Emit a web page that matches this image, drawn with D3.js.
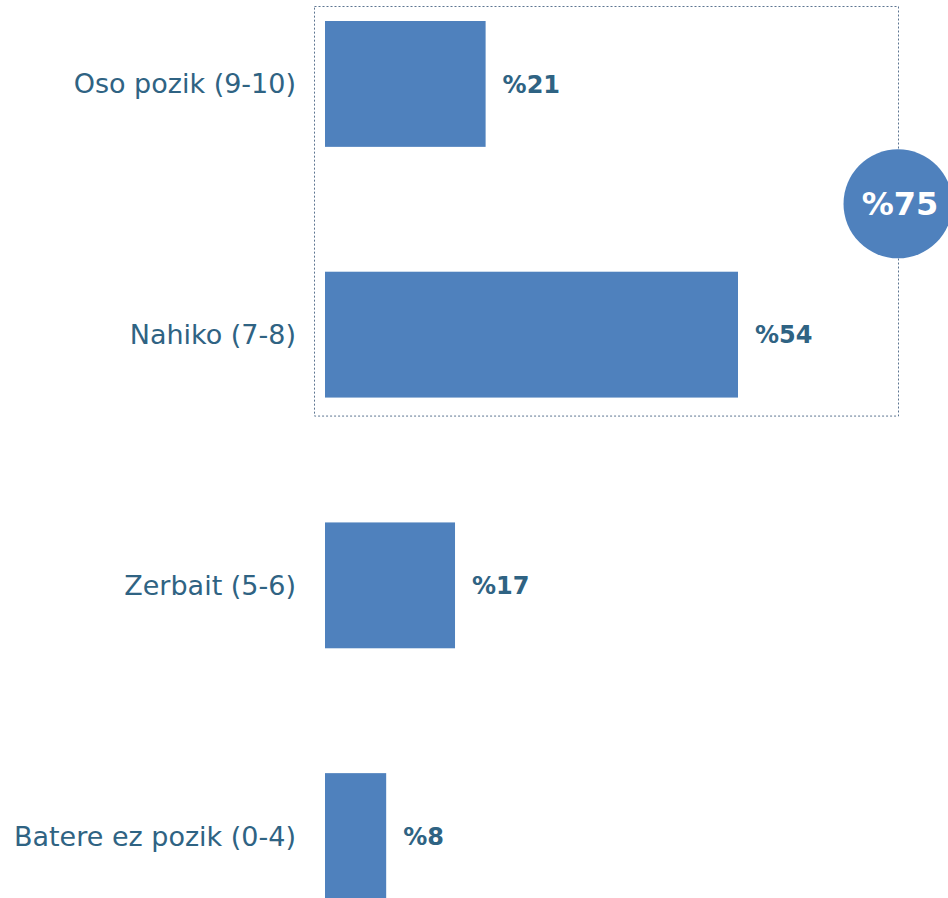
<!DOCTYPE html>
<html>
<head>
<meta charset="utf-8">
<script src="https://cdn.jsdelivr.net/npm/d3@7"></script>
<style>
  html, body { margin: 0; padding: 0; background: #ffffff; }
  svg { display: block; }
</style>
</head>
<body>
<svg id="chart" width="948" height="898"></svg>
<script>
const categories = ["Oso pozik (9-10)", "Nahiko (7-8)", "Zerbait (5-6)", "Batere ez pozik (0-4)"];
const values = [21, 54, 17, 8];
const valueLabels = ["%21", "%54", "%17", "%8"];
const groupedCategories = ["Oso pozik (9-10)", "Nahiko (7-8)"];
const groupTotalLabel = "%75";

const svg = d3.select("#chart");
const barColor = "#4f81bd";
const textColor = "#2f6383";
const font = "'DejaVu Sans', sans-serif";

const x = d3.scaleLinear().domain([0, 54]).range([325, 738]);
const y = d3.scaleBand().domain(categories).range([21, 899]).paddingInner(0.498).paddingOuter(0);

// dotted grouping box
const gTop = y(groupedCategories[0]) - 15;
const gBot = y(groupedCategories[groupedCategories.length - 1]) + y.bandwidth() + 18;
const boxL = x(0) - 11, boxR = 898;
svg.append("rect")
  .attr("x", boxL + 0.5).attr("y", gTop + 0.5)
  .attr("width", boxR - boxL).attr("height", gBot - gTop)
  .attr("fill", "none")
  .attr("stroke", "#5d7591")
  .attr("stroke-width", 1)
  .attr("stroke-dasharray", "2,2");

// bars
svg.selectAll("rect.bar").data(categories).join("rect")
  .attr("class", "bar")
  .attr("x", x(0))
  .attr("y", d => y(d))
  .attr("width", (d, i) => x(values[i]) - x(0))
  .attr("height", y.bandwidth())
  .attr("fill", barColor);

// category labels
svg.selectAll("text.cat").data(categories).join("text")
  .attr("class", "cat")
  .attr("x", x(0) - 29)
  .attr("y", d => y(d) + y.bandwidth() / 2)
  .attr("dy", "0.35em")
  .attr("text-anchor", "end")
  .attr("font-family", font)
  .attr("font-size", 27)
  .attr("fill", textColor)
  .text(d => d);

// value labels
svg.selectAll("text.val").data(categories).join("text")
  .attr("class", "val")
  .attr("x", (d, i) => x(values[i]) + 17)
  .attr("y", d => y(d) + y.bandwidth() / 2)
  .attr("dy", "0.36em")
  .attr("font-family", font)
  .attr("font-size", 24)
  .attr("font-weight", "bold")
  .attr("fill", textColor)
  .text((d, i) => valueLabels[i]);

// total circle
const cy = (gTop + gBot) / 2 - 7;
svg.append("circle")
  .attr("cx", boxR).attr("cy", cy).attr("r", 54.5)
  .attr("fill", barColor);
svg.append("text")
  .attr("x", boxR + 2).attr("y", cy)
  .attr("dy", "0.36em")
  .attr("text-anchor", "middle")
  .attr("font-family", font)
  .attr("font-size", 32)
  .attr("font-weight", "bold")
  .attr("fill", "#ffffff")
  .text(groupTotalLabel);
</script>
</body>
</html>
